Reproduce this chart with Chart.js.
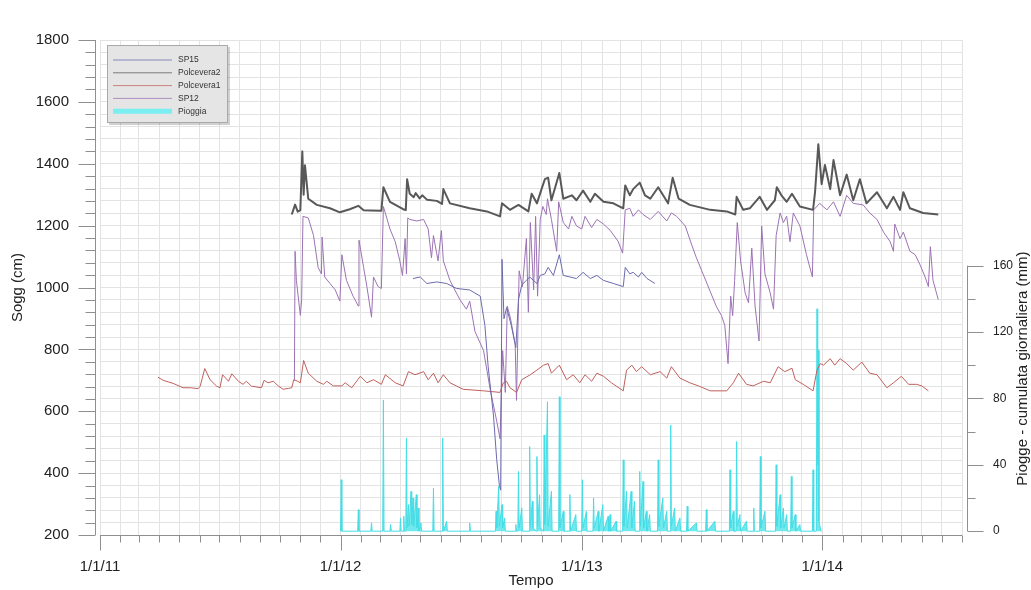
<!DOCTYPE html>
<html><head><meta charset="utf-8">
<script src="https://cdn.jsdelivr.net/npm/chart.js@4.4.0/dist/chart.umd.min.js"></script>
<style>html,body{margin:0;padding:0;background:#fff;}canvas{display:block;}</style>
</head><body>
<canvas id="c" width="1031" height="590"></canvas>
<script>
// ---- tick labels ----
const xTickDays = [0, 365, 731, 1096];              // days since 1/1/11
const xTickLabels = ['1/1/11', '1/1/12', '1/1/13', '1/1/14'];
const leftTickLabels = [200, 400, 600, 800, 1000, 1200, 1400, 1600, 1800];
const rightTickLabels = [0, 40, 80, 120, 160];
const seriesNames = ['SP15', 'Polcevera2', 'Polcevera1', 'SP12', 'Pioggia'];

// ---- series (x = days since 1/1/2011) ----
const sp15Days = [475,486,496,511,526,541,561,577,584,589,597,602,606,608,610,613,617,624,631,635,640,647,652,663,668,675,680,688,697,703,713,723,733,744,754,764,779,794,797,804,809,817,822,830,842];
const sp15Values = [1029,1034,1013,1018,1013,997,992,972,878,744,588,443,361,345,1091,899,935,878,806,961,1008,1023,1034,1013,1039,1044,1065,1039,1106,1039,1034,1029,1049,1029,1039,1023,1013,1003,1065,1044,1049,1034,1049,1029,1013];

const polc2Days = [291,296,300,304,307,309,311,316,329,349,364,379,392,400,410,427,430,440,460,464,466,470,476,479,485,489,496,511,519,521,531,561,587,607,610,622,635,650,655,663,670,675,680,685,697,703,716,723,733,744,751,764,779,794,797,804,809,819,827,835,847,862,869,878,895,926,951,964,966,976,986,1001,1012,1024,1027,1034,1042,1050,1062,1082,1085,1090,1095,1100,1108,1113,1123,1133,1143,1153,1163,1179,1194,1204,1214,1219,1229,1249,1272];
const polc2Values = [1236,1268,1245,1250,1440,1300,1395,1287,1267,1256,1243,1253,1264,1250,1249,1248,1324,1277,1253,1250,1350,1303,1292,1305,1288,1298,1284,1280,1270,1318,1272,1256,1246,1230,1272,1251,1267,1246,1303,1272,1318,1350,1355,1282,1370,1287,1298,1282,1313,1277,1303,1277,1272,1256,1330,1298,1318,1339,1298,1287,1324,1272,1355,1287,1267,1251,1246,1236,1293,1251,1256,1293,1251,1282,1324,1298,1277,1303,1262,1251,1308,1463,1334,1396,1318,1412,1298,1365,1282,1350,1272,1308,1256,1293,1251,1308,1256,1241,1236];

const polc1Days = [88,96,111,126,137,149,152,159,167,177,182,186,195,200,210,217,222,230,245,249,255,263,271,278,286,291,294,300,304,309,316,329,339,344,354,367,372,382,395,405,415,427,433,448,460,468,478,491,498,506,513,521,531,551,582,607,612,617,622,632,640,653,663,673,680,685,697,708,718,728,736,746,754,764,776,794,799,807,814,822,835,850,860,867,880,895,908,926,951,961,969,981,991,1007,1017,1029,1039,1050,1055,1067,1082,1088,1093,1098,1108,1115,1123,1133,1143,1156,1168,1179,1194,1204,1216,1227,1239,1247,1257];
const polc1Values = [710,700,690,676,676,673,681,738,702,681,676,718,697,721,697,687,697,681,676,700,692,697,681,671,674,676,702,697,692,764,723,697,687,697,682,682,692,676,713,692,702,687,718,692,682,728,718,728,702,723,692,718,692,671,666,661,692,697,676,661,702,718,733,749,754,723,749,702,718,692,718,697,723,713,692,666,733,749,728,744,718,728,707,744,707,692,682,666,666,692,723,687,682,697,692,744,728,739,702,687,666,733,754,749,770,749,770,754,733,759,723,718,676,692,713,687,687,682,666];

const sp12Days = [295,296,298,304,306,308,316,324,331,336,337,341,349,357,364,367,374,384,392,393,400,405,412,415,422,427,430,440,448,455,459,463,465,467,470,481,491,498,503,506,513,518,521,531,546,556,561,569,582,592,602,607,611,615,618,623,630,632,636,641,647,650,653,658,661,664,668,672,677,679,685,693,696,703,711,716,723,731,736,746,754,764,774,786,793,797,804,809,817,824,835,847,860,867,875,888,898,905,915,925,935,943,948,953,957,960,963,967,972,979,984,989,994,1000,1004,1009,1017,1022,1026,1032,1037,1042,1047,1052,1062,1072,1081,1083,1092,1103,1113,1123,1133,1143,1158,1168,1179,1189,1199,1204,1206,1214,1219,1229,1237,1244,1252,1257,1260,1264,1272];
const sp12Values = [700,1117,1023,910,961,1230,1225,1168,1065,1044,1163,1034,1013,992,956,1106,1023,972,940,1153,1065,1003,904,1034,1003,997,1262,1189,1148,1086,1039,1158,1044,1225,1220,1215,1220,1189,1096,1168,1086,1184,1086,1023,961,930,956,858,796,671,568,511,796,661,940,899,816,635,1054,1003,1158,920,1210,992,1230,972,1220,1262,1236,1287,1220,1117,1277,1210,1189,1230,1199,1189,1230,1194,1220,1205,1185,1150,1111,1251,1256,1230,1251,1236,1220,1246,1215,1241,1230,1199,1137,1096,1044,992,940,909,878,754,972,909,1023,1210,1086,982,951,1127,940,827,1199,1044,982,930,1168,1241,1210,1230,1148,1241,1199,1106,1034,1251,1272,1251,1277,1230,1298,1272,1267,1241,1220,1179,1148,1117,1205,1158,1179,1117,1106,1075,1034,1003,1132,1023,961];

const rainDays = [365,366,367,391,392,393,411,412,413,429,430,431,440,441,442,455,456,457,460,461,462,464,465,466,468,469,472,473,475,476,480,481,483,484,487,488,505,506,507,519,520,521,526,527,560,561,562,600,601,602,605,606,610,611,614,615,630,631,632,634,635,636,640,641,651,652,653,656,657,662,663,664,667,668,673,674,675,679,680,685,686,696,697,698,703,704,712,713,714,722,723,731,732,733,738,739,748,749,750,756,757,763,764,771,772,774,775,783,784,793,794,795,799,800,806,807,811,812,818,819,820,824,825,829,830,834,835,846,847,848,854,855,860,861,865,866,867,872,873,880,881,890,891,892,905,906,919,920,921,933,934,955,956,957,961,962,965,966,967,971,972,981,982,991,992,993,1001,1002,1003,1009,1010,1025,1026,1027,1032,1033,1037,1038,1042,1043,1048,1049,1050,1055,1056,1062,1063,1081,1082,1083,1087,1088,1089,1090,1091,1092,1094,1095];
const rainValues = [0,31,0,0,13,0,0,5,0,0,79,0,0,4,0,0,8,0,0,9,0,0,56,2,16,3,24,4,20,3,22,2,14,0,5,0,0,26,0,0,56,0,6,0,0,5,0,0,12,2,27,3,16,2,8,0,0,4,0,0,36,2,14,0,0,51,3,18,2,0,45,3,22,2,0,58,4,78,3,24,0,0,81,2,12,0,0,22,0,10,0,0,31,2,12,0,0,20,2,12,0,16,0,9,0,10,0,6,0,0,43,3,24,2,24,2,18,0,0,36,3,30,2,12,0,10,0,0,43,3,20,2,12,0,0,64,3,14,0,8,0,0,15,0,5,0,0,13,0,6,0,0,37,2,12,0,0,54,3,10,0,6,0,0,14,0,0,45,2,12,0,0,40,3,22,2,14,2,10,0,0,33,2,10,0,4,0,0,37,0,0,134,40,109,6,4,0,0];

// ---- calendar month starts for the x grid ----
const X_MAX = (Date.UTC(2014, 7, 1) - Date.UTC(2011, 0, 1)) / 864e5;
const monthTicks = [];
for (let y = 2011; y <= 2014; y++) for (let m = 0; m < 12; m++) {
  const d = (Date.UTC(y, m, 1) - Date.UTC(2011, 0, 1)) / 864e5;
  if (d <= X_MAX) monthTicks.push(d);
}

const pts = (xs, ys) => xs.map((x, i) => ({x: x, y: ys[i]}));
const colors = {SP15: '#6a6aae', Polcevera2: '#585858', Polcevera1: '#c0605c', SP12: '#9c72b4', Pioggia: '#45dde6'};

Chart.defaults.font.family = "'Liberation Sans', Arial, sans-serif";
Chart.defaults.color = '#222';

const decor = {
  id: 'decor',
  afterDraw(chart) {
    const ctx = chart.ctx, ca = chart.chartArea;
    const xs = chart.scales.x, ys = chart.scales.y, y2 = chart.scales.y2;
    ctx.save();
    ctx.strokeStyle = '#8f8f8f'; ctx.lineWidth = 1;
    ctx.beginPath();
    // left axis
    const ax = Math.round(ca.left - 5) + 0.5;
    ctx.moveTo(ax, ys.getPixelForValue(leftTickLabels[leftTickLabels.length - 1]));
    ctx.lineTo(ax, ys.getPixelForValue(leftTickLabels[0]));
    ys.ticks.forEach(t => {
      const py = Math.round(ys.getPixelForValue(t.value)) + 0.5;
      const len = leftTickLabels.includes(t.value) ? 17 : 10;
      ctx.moveTo(ax, py); ctx.lineTo(ax - len, py);
    });
    // bottom axis
    const by = Math.round(ca.bottom) + 0.5;
    ctx.moveTo(ca.left, by); ctx.lineTo(ca.right, by);
    monthTicks.forEach(d => {
      const px = Math.round(xs.getPixelForValue(d)) + 0.5;
      const len = xTickDays.includes(d) ? 15 : 7;
      ctx.moveTo(px, by); ctx.lineTo(px, by + len);
    });
    // right axis
    const rx = Math.round(ca.right + 5) + 0.5;
    ctx.moveTo(rx, y2.getPixelForValue(rightTickLabels[0]));
    ctx.lineTo(rx, y2.getPixelForValue(rightTickLabels[rightTickLabels.length - 1]));
    y2.ticks.forEach(t => {
      const py = Math.round(y2.getPixelForValue(t.value)) + 0.5;
      const len = rightTickLabels.includes(t.value) ? 16 : 8;
      ctx.moveTo(rx, py); ctx.lineTo(rx + len, py);
    });
    ctx.stroke();

    // right axis title (reads bottom-to-top)
    ctx.save();
    ctx.translate(1023, y2.getPixelForValue(98));
    ctx.rotate(-Math.PI / 2);
    ctx.fillStyle = '#222';
    ctx.font = "15px 'Liberation Sans', Arial, sans-serif";
    ctx.textAlign = 'center'; ctx.textBaseline = 'middle';
    ctx.fillText('Piogge - cumulata giornaliera (mm)', 0, 0);
    ctx.restore();

    // legend box
    const bx = ca.left + 7, bt = ca.top + 5, bw = 121, bh = 78;
    ctx.fillStyle = 'rgba(0,0,0,0.18)';
    ctx.fillRect(bx + 2, bt + 2, bw, bh);
    ctx.fillStyle = '#e5e5e5';
    ctx.fillRect(bx, bt, bw, bh);
    ctx.strokeStyle = '#a9a9a9';
    ctx.strokeRect(bx + 0.5, bt + 0.5, bw - 1, bh - 1);
    ctx.font = "8.5px 'Liberation Sans', Arial, sans-serif";
    ctx.textAlign = 'left'; ctx.textBaseline = 'middle';
    chart.data.datasets.forEach((ds, i) => {
      const ry = bt + 15 + i * 12.8;
      ctx.strokeStyle = ds.label === 'Pioggia' ? '#7beef1' : ds.borderColor;
      ctx.globalAlpha = ds.label === 'Pioggia' ? 1 : 0.75;
      ctx.lineWidth = ds.label === 'Pioggia' ? 5 : 1;
      ctx.beginPath(); ctx.moveTo(bx + 6, ry); ctx.lineTo(bx + 65, ry); ctx.stroke();
      ctx.globalAlpha = 1;
      ctx.fillStyle = '#333';
      ctx.fillText(ds.label, bx + 71, ry);
    });
    ctx.restore();
  }
};

new Chart(document.getElementById('c'), {
  type: 'line',
  data: {
    datasets: [
      {label: seriesNames[0], data: pts(sp15Days, sp15Values), borderColor: colors.SP15, borderWidth: 1, yAxisID: 'y'},
      {label: seriesNames[1], data: pts(polc2Days, polc2Values), borderColor: colors.Polcevera2, borderWidth: 2, yAxisID: 'y'},
      {label: seriesNames[2], data: pts(polc1Days, polc1Values), borderColor: colors.Polcevera1, borderWidth: 1, yAxisID: 'y'},
      {label: seriesNames[3], data: pts(sp12Days, sp12Values), borderColor: colors.SP12, borderWidth: 1, yAxisID: 'y'},
      {label: seriesNames[4], data: pts(rainDays, rainValues), borderColor: colors.Pioggia, backgroundColor: '#6fe9ee', borderWidth: 1, fill: 'origin', yAxisID: 'y2', order: 10}
    ]
  },
  options: {
    responsive: false, animation: false, devicePixelRatio: 1,
    parsing: true,
    elements: {point: {radius: 0}, line: {tension: 0, borderJoinStyle: 'round'}},
    layout: {padding: {top: 20, left: 0, right: 0, bottom: 0}},
    plugins: {legend: {display: false}, tooltip: {enabled: false}},
    scales: {
      x: {
        type: 'linear', min: 0, max: X_MAX,
        afterBuildTicks: s => { s.ticks = monthTicks.map(v => ({value: v})); },
        ticks: {autoSkip: false, maxRotation: 0, padding: 23, font: {size: 15}, color: '#222',
          callback: v => { const i = xTickDays.indexOf(v); return i >= 0 ? xTickLabels[i] : ''; }},
        grid: {color: '#e3e3e3', drawTicks: false},
        border: {display: false},
        title: {display: true, text: 'Tempo', font: {size: 15}, color: '#222', padding: {top: 0, bottom: 0}},
        afterFit: s => { s.height = 55; }
      },
      y: {
        type: 'linear', position: 'left', min: 200, max: 1800,
        afterBuildTicks: s => { const t = []; for (let v = 200; v <= 1800; v += 40) t.push({value: v}); s.ticks = t; },
        ticks: {autoSkip: false, padding: 31, font: {size: 15}, color: '#222',
          callback: v => leftTickLabels.includes(v) ? String(v) : ''},
        grid: {color: '#e3e3e3', drawTicks: false},
        border: {display: false},
        title: {display: true, text: 'Sogg (cm)', font: {size: 15}, color: '#222', padding: {top: 9, bottom: 0}},
        afterFit: s => { s.width = 100; }
      },
      y2: {
        type: 'linear', position: 'right', min: -2.3, max: 296,
        afterBuildTicks: s => { const t = []; for (let v = 0; v <= 160; v += 20) t.push({value: v}); s.ticks = t; },
        ticks: {autoSkip: false, padding: 31, font: {size: 12}, color: '#222',
          callback: v => rightTickLabels.includes(v) ? String(v) : ''},
        grid: {drawOnChartArea: false, drawTicks: false},
        border: {display: false},
        afterFit: s => { s.width = 69; }
      }
    }
  },
  plugins: [decor]
});
</script>
</body></html>
